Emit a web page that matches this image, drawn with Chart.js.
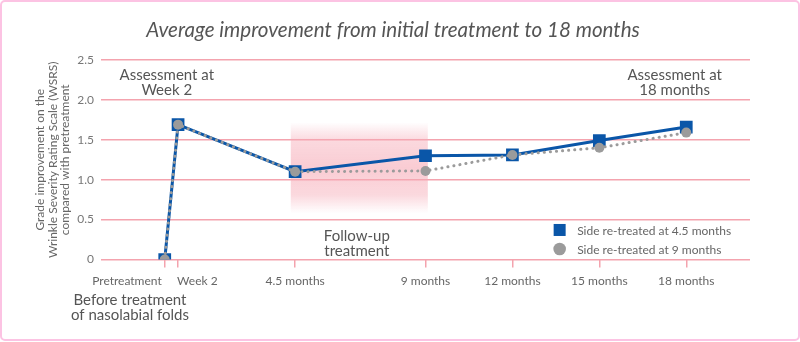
<!DOCTYPE html>
<html>
<head>
<meta charset="utf-8">
<script src="https://cdn.jsdelivr.net/npm/chart.js@4.4.1/dist/chart.umd.min.js"></script>
<style>
  html, body { margin: 0; padding: 0; background: #fff; }
  #wrap { position: relative; width: 800px; height: 342px; }
  #frame { position: absolute; left: 0; top: 0; width: 800px; height: 341px; box-sizing: border-box;
           border: 2.5px solid #fcc3e3; border-radius: 5px; pointer-events: none; }
</style>
</head>
<body>
<div id="wrap">
  <canvas id="chart" width="800" height="342"></canvas>
  <div id="frame"></div>
</div>
<script>
// Datos (meses desde el tratamiento inicial)
const tickMonths = [0, 0.46, 4.5, 9, 12, 15, 18];
const tickLabels = ['Pretreatment', 'Week 2', '4.5 months', '9 months', '12 months', '15 months', '18 months'];
const seriesLabels = ['Side re-treated at 4.5 months', 'Side re-treated at 9 months'];
const blueValues = [0, 1.69, 1.10, 1.30, 1.31, 1.49, 1.66];
const grayValues = [0, 1.69, 1.10, 1.11, 1.31, 1.40, 1.59];
const yTicks = [0, 0.5, 1.0, 1.5, 2.0, 2.5];
const chartTitle = 'Average improvement from initial treatment to 18 months';

const FONT = 'Lato, "Open Sans", sans-serif';
const PINK = '#f4a3ae';
const BLUE = '#0a56a8';
const GRAY = '#9b9b9b';
const TEXT = '#555';

// Banda sombreada de "Follow-up treatment"
const bandPlugin = {
  id: 'band',
  beforeDatasetsDraw(chart) {
    const {ctx, scales: {x, y}} = chart;
    const x0 = x.getPixelForValue(4.35), x1 = x.getPixelForValue(9.08);
    const y0 = y.getPixelForValue(1.72), y1 = y.getPixelForValue(0.58);
    const g = ctx.createLinearGradient(0, y0, 0, y1);
    g.addColorStop(0, 'rgba(246,170,182,0)');
    g.addColorStop(0.2, 'rgba(246,170,182,0.45)');
    g.addColorStop(0.5, 'rgba(246,170,182,0.6)');
    g.addColorStop(0.8, 'rgba(246,170,182,0.45)');
    g.addColorStop(1, 'rgba(246,170,182,0)');
    ctx.save();
    ctx.fillStyle = g;
    ctx.fillRect(x0, y0, x1 - x0, y1 - y0);
    ctx.restore();
  }
};

// Título, etiquetas del eje X, anotaciones y leyenda
const textPlugin = {
  id: 'texts',
  afterDraw(chart) {
    const {ctx, chartArea, scales: {x, y}} = chart;
    ctx.save();
    ctx.textBaseline = 'middle';

    // título
    ctx.font = 'italic 20.6px ' + FONT;
    ctx.fillStyle = TEXT;
    ctx.textAlign = 'center';
    ctx.fillText(chartTitle, 393, 30);

    // etiquetas del eje x
    ctx.font = '12px ' + FONT;
    ctx.fillStyle = '#666';
    tickMonths.forEach((m, i) => {
      const px = x.getPixelForValue(m);
      if (i === 0) { ctx.textAlign = 'right'; ctx.fillText(tickLabels[i], px - 3, chartArea.bottom + 22); }
      else if (i === 1) { ctx.textAlign = 'left'; ctx.fillText(tickLabels[i], px - 1, chartArea.bottom + 22); }
      else { ctx.textAlign = 'center'; ctx.fillText(tickLabels[i], px, chartArea.bottom + 22); }
    });

    // anotaciones
    ctx.font = '15px ' + FONT;
    ctx.fillStyle = TEXT;
    ctx.textAlign = 'center';
    const note = (lines, px, py) => {
      lines.forEach((t, i) => ctx.fillText(t, px, py + (i - (lines.length - 1) / 2) * 15));
    };
    note(['Assessment at', 'Week 2'], x.getPixelForValue(0.07), y.getPixelForValue(2.21));
    note(['Assessment at', '18 months'], x.getPixelForValue(17.6), y.getPixelForValue(2.21));
    note(['Follow-up', 'treatment'], x.getPixelForValue(6.63), y.getPixelForValue(0.2));
    note(['Before treatment', 'of nasolabial folds'], x.getPixelForValue(-1.2), chartArea.bottom + 48);

    // leyenda
    const lx = x.getPixelForValue(13.63);
    ctx.font = '12px ' + FONT;
    ctx.textAlign = 'left';
    chart.data.datasets.forEach((ds, i) => {
      const ly = y.getPixelForValue(0.37) + i * 19;
      ctx.fillStyle = ds.pointBackgroundColor;
      if (ds.pointStyle === 'rect') {
        ctx.fillRect(lx - 6, ly - 6, 12, 12);
      } else {
        ctx.beginPath(); ctx.arc(lx, ly, 6.3, 0, Math.PI * 2); ctx.fill();
      }
      ctx.fillStyle = '#666';
      ctx.fillText(ds.label, lx + 17.5, ly + 1);
    });
    ctx.restore();
  }
};

function createChart() {
  const ctx = document.getElementById('chart').getContext('2d');
  new Chart(ctx, {
    type: 'line',
    data: {
      datasets: [{
        label: seriesLabels[0],
        data: tickMonths.map((m, i) => ({x: m, y: blueValues[i]})),
        borderColor: BLUE,
        borderWidth: 3,
        pointStyle: 'rect',
        pointRadius: 9,
        pointBackgroundColor: BLUE,
        pointBorderWidth: 0,
        order: 2
      }, {
        label: seriesLabels[1],
        data: tickMonths.map((m, i) => ({x: m, y: grayValues[i]})),
        borderColor: GRAY,
        borderWidth: 3,
        borderDash: [0.1, 6],
        borderCapStyle: 'round',
        pointStyle: 'circle',
        pointRadius: 5,
        pointBackgroundColor: GRAY,
        pointBorderWidth: 0,
        order: 1
      }]
    },
    options: {
      responsive: false,
      animation: false,
      events: [],
      layout: { padding: { left: 0, right: 50, top: 60, bottom: 0 } },
      plugins: {
        legend: { display: false },
        tooltip: { enabled: false },
        title: { display: false }
      },
      scales: {
        x: {
          type: 'linear',
          min: -2.2,
          max: 20.2,
          afterBuildTicks: s => { s.ticks = tickMonths.map(v => ({value: v})); },
          ticks: { display: false },
          grid: { drawOnChartArea: false, drawTicks: true, tickLength: 8, color: PINK, lineWidth: 1.5 },
          border: { display: false },
          afterFit: s => { s.height = 82.5; }
        },
        y: {
          min: 0,
          max: 2.5,
          afterBuildTicks: s => { s.ticks = yTicks.map(v => ({value: v})); },
          ticks: {
            color: '#777',
            padding: 7,
            font: { family: FONT, size: 12 },
            callback: v => v === 0 ? '0' : v.toFixed(1)
          },
          grid: { color: PINK, lineWidth: 1.5, drawTicks: false },
          border: { display: false },
          title: {
            display: true,
            text: ['Grade improvement on the', 'Wrinkle Severity Rating Scale (WSRS)', 'compared with pretreatment'],
            color: '#666',
            font: { family: FONT, size: 12, lineHeight: 1.05 },
            padding: { top: 34, bottom: 0 }
          },
          afterFit: s => { s.width = 101; }
        }
      }
    },
    plugins: [bandPlugin, textPlugin]
  });
}

createChart();
</script>
</body>
</html>
